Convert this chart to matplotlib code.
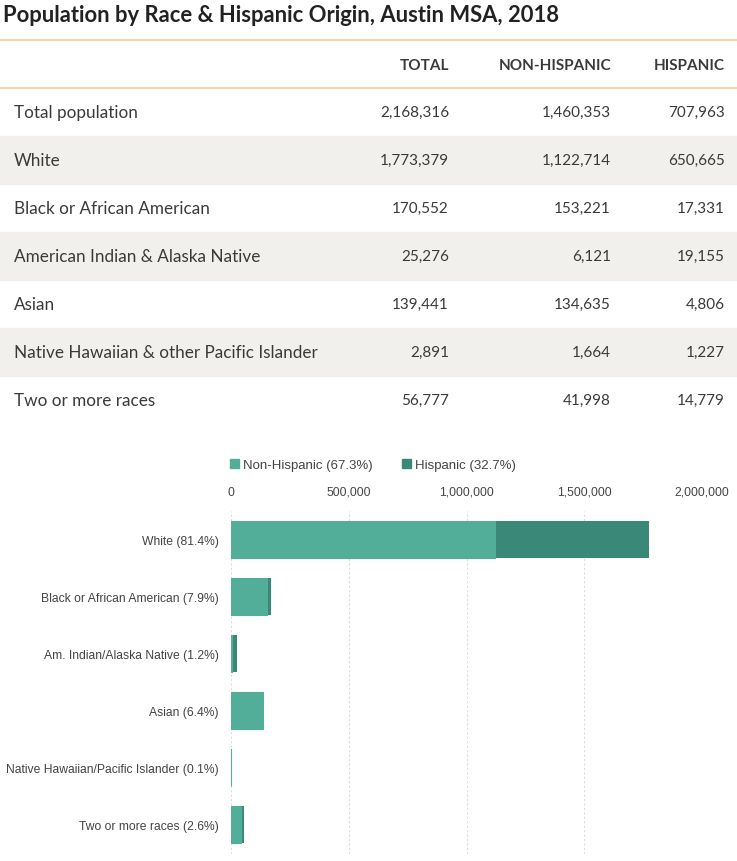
import matplotlib.pyplot as plt
from matplotlib.patches import Patch
from matplotlib.ticker import FuncFormatter

# table data
row_names = ['Total population', 'White', 'Black or African American',
             'American Indian & Alaska Native', 'Asian',
             'Native Hawaiian & other Pacific Islander', 'Two or more races']
total = [2168316, 1773379, 170552, 25276, 139441, 2891, 56777]
non_hispanic = [1460353, 1122714, 153221, 6121, 134635, 1664, 41998]
hispanic = [707963, 650665, 17331, 19155, 4806, 1227, 14779]

# chart data
bar_labels = ['White (81.4%)', 'Black or African American (7.9%)',
              'Am. Indian/Alaska Native (1.2%)', 'Asian (6.4%)',
              'Native Hawaiian/Pacific Islander (0.1%)', 'Two or more races (2.6%)']
bar_non_hisp = non_hispanic[1:]
bar_hisp = hispanic[1:]
legend_labels = ['Non-Hispanic (67.3%)', 'Hispanic (32.7%)']

W, H = 737, 862
fig = plt.figure(figsize=(W / 100, H / 100), dpi=100)
fig.patch.set_facecolor('white')

def fx(px):
    return px / W

def fy(py):
    return 1 - py / H

TFONT = 'Lato'
text_col = '#3a3a3a'
orange = '#f5d4ab'
band = '#f1f0ed'

fig.text(fx(3), fy(15), 'Population by Race & Hispanic Origin, Austin MSA, 2018',
         fontsize=15.8, fontweight='bold', family=TFONT, color='#222222', va='center')

fig.add_artist(plt.Line2D([0, 1], [fy(41), fy(41)], color=orange, lw=1.5))
fig.add_artist(plt.Line2D([0, 1], [fy(89), fy(89)], color=orange, lw=1.5))

col_x = [449, 611, 725]
for x, h in zip(col_x, ['TOTAL', 'NON-HISPANIC', 'HISPANIC']):
    fig.text(fx(x), fy(66), h, ha='right', va='center', fontsize=11,
             fontweight='bold', family=TFONT, color=text_col)

row_h = 48
for i, name in enumerate(row_names):
    cy = 113 + i * row_h
    if i % 2 == 1:
        fig.add_artist(plt.Rectangle((0, fy(cy + row_h / 2)), 1, row_h / H,
                                     color=band, transform=fig.transFigure, zorder=0))
    fig.text(fx(14), fy(cy), name, ha='left', va='center', fontsize=12.3,
             family=TFONT, color=text_col)
    for x, v in zip(col_x, [total[i], non_hispanic[i], hispanic[i]]):
        fig.text(fx(x), fy(cy), f'{v:,}', ha='right', va='center', fontsize=11,
                 family=TFONT, color=text_col)

# bar chart
c_non = '#52ae98'
c_his = '#3a8877'
CFONT = 'Liberation Sans'
ax_top, ax_bot = 511.5, 854.5
ax_l, ax_r = 231, 702
ax = fig.add_axes([fx(ax_l), fy(ax_bot), fx(ax_r - ax_l), (ax_bot - ax_top) / H])
ypos = list(range(len(bar_labels)))
ax.barh(ypos, bar_hisp, left=bar_non_hisp, height=0.65, color=c_his, zorder=3)
ax.barh(ypos, bar_non_hisp, height=0.65, color=c_non, edgecolor=c_non,
        linewidth=0.8, zorder=4)
ax.set_ylim(5.5, -0.5)
ax.set_xlim(0, 2000000)
ax.set_xticks([0, 500000, 1000000, 1500000, 2000000])
ax.xaxis.set_major_formatter(FuncFormatter(lambda v, p: f'{int(v):,}'))
ax.xaxis.tick_top()
ax.tick_params(axis='x', length=0, pad=9, labelsize=8.7, labelcolor='#444444')
ax.tick_params(axis='y', length=0, pad=9, labelsize=8.75, labelcolor='#444444')
ax.set_yticks(ypos)
ax.set_yticklabels(bar_labels)
for lab in ax.get_xticklabels() + ax.get_yticklabels():
    lab.set_family(CFONT)
ax.grid(axis='x', color='#dddddd', lw=0.8, linestyle=(0, (2, 2)), zorder=0)
for s in ax.spines.values():
    s.set_visible(False)
ax.set_facecolor('none')

handles = [Patch(color=c_non), Patch(color=c_his)]
fig.legend(handles, legend_labels, loc='center', bbox_to_anchor=(fx(373), fy(466)),
           ncol=2, frameon=False, handlelength=0.7, handleheight=0.7,
           handletextpad=0.3, columnspacing=2.2,
           prop={'family': CFONT, 'size': 9.5}, labelcolor='#444444')

fig.savefig('out.png', dpi=100, facecolor='white')
